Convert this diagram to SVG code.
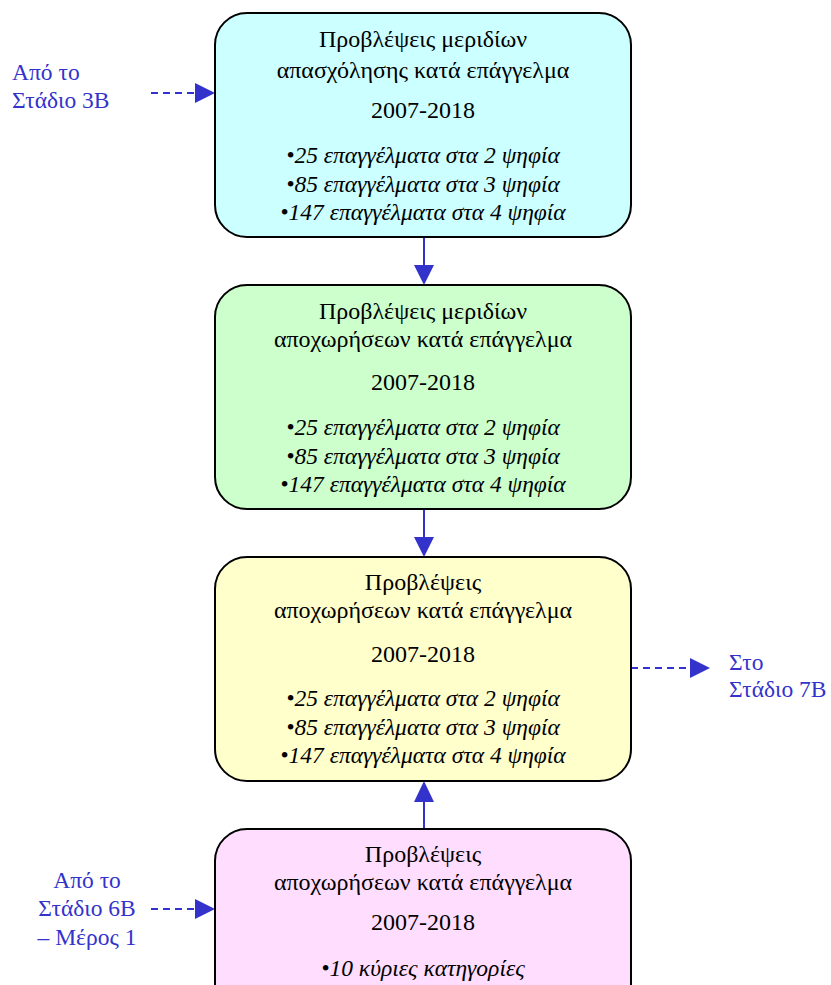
<svg xmlns="http://www.w3.org/2000/svg" width="831" height="985" viewBox="0 0 831 985">
<style>
.box{stroke:#000;stroke-width:2}
.t{font-family:"Liberation Serif","Times New Roman",serif;font-size:24px;fill:#000;text-anchor:middle}
.i{font-style:italic;font-size:23.5px}
.b{font-family:"Liberation Serif","Times New Roman",serif;font-size:23.5px;fill:#3333CC}
.c{stroke:#3333CC;stroke-width:2;fill:none}
.d{stroke-dasharray:7,5}
.h{fill:#3333CC}
</style>
<rect width="831" height="985" fill="#fff"/>
<g id="connectors">
<line class="c" x1="424" y1="237" x2="424" y2="266"/>
<polygon class="h" points="414,265 434,265 424,285"/>
<line class="c" x1="424" y1="509" x2="424" y2="538"/>
<polygon class="h" points="414,537 434,537 424,557"/>
<line class="c" x1="424" y1="829" x2="424" y2="800"/>
<polygon class="h" points="414,802 434,802 424,781"/>
<line class="c d" x1="151" y1="93" x2="197" y2="93"/>
<polygon class="h" points="195,83 195,103 215,93"/>
<line class="c d" x1="151" y1="909" x2="197" y2="909"/>
<polygon class="h" points="195,899 195,919 215,909"/>
<line class="c d" x1="631" y1="668" x2="692" y2="668"/>
<polygon class="h" points="690,658 690,678 710,668"/>
</g>
<g id="label-from3b">
<text class="b" x="12" y="80">Από το</text>
<text class="b" x="12" y="108">Στάδιο 3Β</text>
</g>
<g id="label-from6b">
<text class="b" x="87" y="888" text-anchor="middle">Από το</text>
<text class="b" x="87" y="916" text-anchor="middle">Στάδιο 6Β</text>
<text class="b" x="87" y="945" text-anchor="middle">– Μέρος 1</text>
</g>
<g id="label-to7b">
<text class="b" x="729" y="670">Στο</text>
<text class="b" x="729" y="697">Στάδιο 7Β</text>
</g>
<g id="node1">
<rect class="box" x="215" y="13" width="416" height="224" rx="32" fill="#CCFFFF"/>
<text class="t" x="423" y="47">Προβλέψεις μεριδίων</text>
<text class="t" x="423" y="78">απασχόλησης κατά επάγγελμα</text>
<text class="t" x="423" y="118">2007-2018</text>
<text class="t i" x="423" y="163">•25 επαγγέλματα στα 2 ψηφία</text>
<text class="t i" x="423" y="192">•85 επαγγέλματα στα 3 ψηφία</text>
<text class="t i" x="423" y="220">•147 επαγγέλματα στα 4 ψηφία</text>
</g>
<g id="node2">
<rect class="box" x="215" y="285" width="416" height="224" rx="32" fill="#CCFFCC"/>
<text class="t" x="423" y="319">Προβλέψεις μεριδίων</text>
<text class="t" x="423" y="347">αποχωρήσεων κατά επάγγελμα</text>
<text class="t" x="423" y="390">2007-2018</text>
<text class="t i" x="423" y="435">•25 επαγγέλματα στα 2 ψηφία</text>
<text class="t i" x="423" y="464">•85 επαγγέλματα στα 3 ψηφία</text>
<text class="t i" x="423" y="492">•147 επαγγέλματα στα 4 ψηφία</text>
</g>
<g id="node3">
<rect class="box" x="215" y="557" width="416" height="224" rx="32" fill="#FFFFCC"/>
<text class="t" x="423" y="590">Προβλέψεις</text>
<text class="t" x="423" y="618">αποχωρήσεων κατά επάγγελμα</text>
<text class="t" x="423" y="662">2007-2018</text>
<text class="t i" x="423" y="706">•25 επαγγέλματα στα 2 ψηφία</text>
<text class="t i" x="423" y="735">•85 επαγγέλματα στα 3 ψηφία</text>
<text class="t i" x="423" y="763">•147 επαγγέλματα στα 4 ψηφία</text>
</g>
<g id="node4">
<rect class="box" x="215" y="829" width="416" height="190" rx="32" fill="#FFDDFF"/>
<text class="t" x="423" y="862">Προβλέψεις</text>
<text class="t" x="423" y="890">αποχωρήσεων κατά επάγγελμα</text>
<text class="t" x="423" y="930">2007-2018</text>
<text class="t i" x="423" y="976">•10 κύριες κατηγορίες</text>
</g>
</svg>
